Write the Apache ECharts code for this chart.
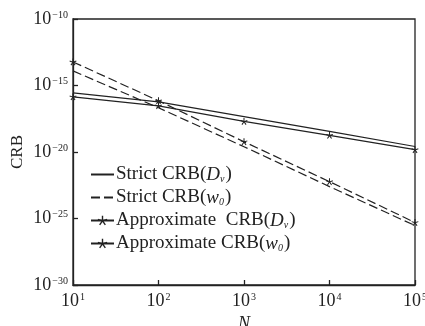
<!DOCTYPE html>
<html>
<head>
<meta charset="utf-8">
<script src="https://cdn.jsdelivr.net/npm/echarts@6/dist/echarts.min.js"></script>
<style>
  html, body { margin: 0; padding: 0; background: #fff; }
  #chart { width: 425px; height: 326px; }
</style>
</head>
<body>
<div id="chart"></div>
<script>
// Datos (CRB frente a N)
const nValues = [10, 100, 1000, 10000, 100000];
const strictDv = [2.8e-16, 5.9e-17, 4.5e-18, 3.5e-19, 2.6e-20];
const strictW0 = [1.26e-14, 2.1e-17, 2.5e-20, 2.5e-23, 2.95e-26];
const approxDv = [1.4e-16, 2.95e-17, 2.0e-18, 1.8e-19, 1.5e-20];
const approxW0 = [5.9e-14, 7.1e-17, 5.9e-20, 5.9e-23, 5.0e-26];
const yTicks = [1e-30, 1e-25, 1e-20, 1e-15, 1e-10];
const seriesNames = ['Strict CRB(Dv)', 'Strict CRB(w0)', 'Approximate CRB(Dv)', 'Approximate CRB(w0)'];

const serif = 'Liberation Serif';
const ink = '#222';
// asterisco pequeño como marcador
const star = 'path://M-0.8,-6 L0.8,-6 L0.8,-1.2 L5,-2.6 L5.5,-1.1 L1.3,0.3 L3.9,4.1 L2.6,5 L0,1.3 L-2.6,5 L-3.9,4.1 L-1.3,0.3 L-5.5,-1.1 L-5,-2.6 L-0.8,-1.2 Z';

function pair(arr) {
    return nValues.map((n, i) => [n, arr[i]]);
}

// Etiqueta 10^k con superíndice
function powLabel(v) {
    const e = Math.round(Math.log10(v));
    const s = e < 0 ? '\u2212' + (-e) : String(e);
    return '{b|10}{e|' + s + '}';
}

const powRich = {
    b: { fontFamily: serif, fontSize: 18, color: ink, lineHeight: 18, verticalAlign: 'bottom' },
    e: { fontFamily: serif, fontSize: 10, color: ink, lineHeight: 18, verticalAlign: 'top', padding: [0, 0, 0, 1] }
};

const legendLabels = {
    'Strict CRB(Dv)': '{n|Strict CRB(}{i|D}{s|v}{n|)}',
    'Strict CRB(w0)': '{n|Strict CRB(}{i|w}{s|0}{n|)}',
    'Approximate CRB(Dv)': '{n|Approximate  CRB(}{i|D}{s|v}{n|)}',
    'Approximate CRB(w0)': '{n|Approximate CRB(}{i|w}{s|0}{n|)}'
};

const chart = echarts.init(document.getElementById('chart'));

const option = {
    backgroundColor: '#fff',
    animation: false,
    grid: {
        left: 73, right: 10, top: 19, bottom: 41,
        containLabel: false,
        outerBoundsMode: 'none',
        show: true,
        borderColor: ink,
        borderWidth: 1.3,
        backgroundColor: 'transparent'
    },
    legend: {
        orient: 'vertical',
        left: 85,
        top: 160,
        itemWidth: 23,
        itemHeight: 12,
        itemGap: 4,
        data: [
            { name: seriesNames[0], itemStyle: { opacity: 0 } },
            { name: seriesNames[1], itemStyle: { opacity: 0 } },
            { name: seriesNames[2] },
            { name: seriesNames[3], lineStyle: { type: 'solid' } }
        ],
        formatter: name => legendLabels[name],
        textStyle: {
            padding: [0, 0, 0, -3],
            rich: {
                n: { fontFamily: serif, fontSize: 19, color: ink, lineHeight: 19, verticalAlign: 'bottom' },
                i: { fontFamily: serif, fontSize: 19, fontStyle: 'italic', color: ink, lineHeight: 19, verticalAlign: 'bottom' },
                s: { fontFamily: serif, fontSize: 10, fontStyle: 'italic', color: ink, lineHeight: 19, verticalAlign: 'bottom', padding: [0, 1, 0, 0] }
            }
        }
    },
    xAxis: {
        type: 'log',
        logBase: 10,
        min: 10,
        max: 100000,
        name: 'N',
        nameLocation: 'middle',
        nameGap: 30,
        nameMoveOverlap: false,
        nameTextStyle: { fontFamily: serif, fontSize: 18, fontStyle: 'italic', color: ink },
        axisLine: { lineStyle: { color: ink, width: 1.3 } },
        axisTick: { inside: true, length: 5, lineStyle: { color: ink, width: 1.3 } },
        axisLabel: { margin: 7, hideOverlap: false, fontFamily: serif, fontSize: 18, color: ink, formatter: powLabel, rich: powRich },
        splitLine: { show: false }
    },
    yAxis: {
        type: 'log',
        logBase: 10,
        min: 1e-30,
        max: 1e-10,
        interval: 5,
        name: 'CRB',
        nameLocation: 'middle',
        nameRotate: 90,
        nameGap: 47,
        nameMoveOverlap: false,
        nameTextStyle: { fontFamily: serif, fontSize: 17, color: ink },
        axisLine: { lineStyle: { color: ink, width: 1.3 } },
        axisTick: { inside: true, length: 5, customValues: yTicks, lineStyle: { color: ink, width: 1.3 } },
        axisLabel: {
            margin: 5, hideOverlap: false, showMinLabel: true, showMaxLabel: true,
            customValues: yTicks,
            fontFamily: serif, fontSize: 18, color: ink, formatter: powLabel, rich: powRich
        },
        splitLine: { show: false }
    },
    series: [
        {
            name: seriesNames[0], type: 'line', data: pair(strictDv),
            symbol: 'none', color: ink,
            lineStyle: { color: ink, width: 1.2, type: 'solid' }
        },
        {
            name: seriesNames[1], type: 'line', data: pair(strictW0),
            symbol: 'none', color: ink,
            lineStyle: { color: ink, width: 1.2, type: [9, 4] }
        },
        {
            name: seriesNames[2], type: 'line', data: pair(approxDv),
            symbol: star, symbolSize: 7, showSymbol: true, color: ink,
            itemStyle: { color: ink },
            lineStyle: { color: ink, width: 1.2, type: 'solid' }
        },
        {
            name: seriesNames[3], type: 'line', data: pair(approxW0),
            symbol: star, symbolSize: 7, showSymbol: true, color: ink,
            itemStyle: { color: ink },
            lineStyle: { color: ink, width: 1.2, type: [9, 4] }
        }
    ]
};

chart.setOption(option);
</script>
</body>
</html>
